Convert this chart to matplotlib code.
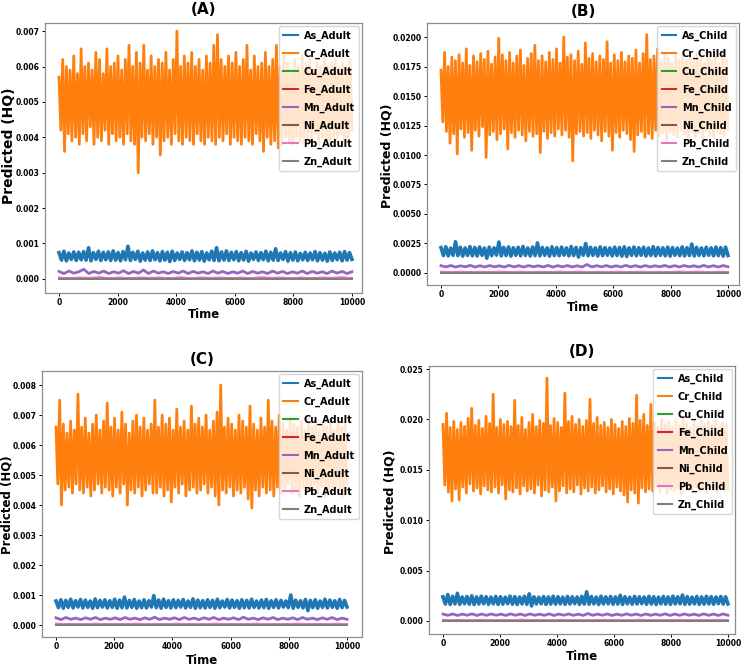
import numpy as np
from matplotlib import pyplot as plt

plt.rcParams["font.family"] = ["DejaVu Sans"]
plt.rcParams["font.weight"] = "bold"
plt.rcParams["axes.labelweight"] = "bold"

metals = ["As", "Cr", "Cu", "Fe", "Mn", "Ni", "Pb", "Zn"]
# units of each metal's value list
units = [1e-5, 1e-4, 1e-6, 1e-6, 1e-5, 1e-6, 1e-5, 1e-6]
colors = ["#1f77b4", "#ff7f0e", "#2ca02c", "#d62728",
          "#9467bd", "#8c564b", "#e377c2", "#7f7f7f"]
x_ticks = [0, 2000, 4000, 6000, 8000, 10000]

# ---- panel A (adult) ----
as_a = [74, 53, 78, 51, 73, 55, 76, 52, 75, 54, 77, 53, 88, 51, 74, 55, 78, 52, 75, 54,
        76, 52, 79, 53, 74, 51, 77, 54, 92, 52, 75, 55, 78, 50, 73, 53, 76, 52, 79, 54,
        74, 51, 77, 53, 75, 49, 78, 52, 73, 55, 76, 52, 74, 54, 79, 51, 75, 53, 77, 50,
        73, 54, 78, 52, 88, 51, 76, 53, 79, 52, 75, 54, 77, 51, 74, 53, 78, 50, 73, 55,
        76, 52, 74, 54, 78, 51, 75, 53, 85, 52, 73, 55, 77, 50, 74, 53, 76, 51, 72, 54,
        75, 52, 73, 54, 77, 51, 74, 53, 72, 50, 76, 52, 73, 54, 75, 51, 77, 53, 74, 55]
cr_a = [57, 42, 62, 36, 60, 41, 59, 39, 63, 40, 58, 38, 65, 41, 60, 39, 61, 43, 59, 38,
        64, 40, 62, 39, 58, 42, 65, 38, 60, 41, 61, 39, 63, 40, 59, 38, 62, 41, 66, 39,
        60, 38, 64, 30, 61, 40, 66, 39, 59, 41, 63, 38, 60, 40, 62, 35, 61, 39, 64, 40,
        59, 38, 62, 41, 70, 39, 60, 38, 63, 40, 61, 39, 64, 38, 60, 41, 62, 39, 59, 38,
        63, 40, 61, 39, 66, 38, 69, 40, 62, 39, 60, 41, 63, 38, 61, 40, 64, 39, 60, 38,
        62, 40, 66, 39, 59, 38, 63, 41, 60, 39, 61, 36, 64, 40, 60, 38, 62, 39, 66, 37,
        60, 38, 63, 40, 61, 39, 59, 38, 62, 40, 60, 39, 63, 38, 61, 40, 62, 39, 59, 41,
        61, 38, 60, 40, 63, 39, 60, 38, 61, 40, 62, 39, 60, 41, 61, 38, 59, 40, 62, 42]
cu_a = [9, 12, 8, 11, 10, 13, 9, 11, 8, 12, 10, 11, 9, 13, 8, 12, 10, 11, 9, 12]
fe_a = [4, 6, 5, 7, 4, 6, 5, 6, 4, 7, 5, 6, 4, 6, 5, 7, 4, 6, 5, 6]
mn_a = [21, 15, 22, 16, 20, 27, 15, 21, 16, 22, 15, 20, 16, 23, 15, 21, 16, 25, 15, 22,
        16, 20, 15, 21, 16, 22, 15, 21, 16, 20, 15, 22, 16, 21, 15, 20, 16, 22, 15, 21,
        16, 20, 15, 22, 16, 21, 15, 20, 16, 22, 15, 21, 16, 20, 15, 22, 16, 21, 15, 20]
ni_a = [15, 19, 14, 18, 16, 20, 15, 18, 14, 19, 16, 18, 15, 20, 14, 19, 16, 18, 15, 19]
pb_a = [4, 2, 4, 3, 5, 2, 4, 2, 4, 3, 4, 2, 5, 2, 4, 3, 4, 2, 4, 2, 5, 3, 4, 2, 4, 2, 4, 3, 5, 2]
zn_a = [2, 4, 3, 4, 2, 3, 3, 4, 2, 4, 3, 3, 2, 4, 3, 4, 2, 3, 3, 4]

# ---- panel B (child) ----
as_b = [215, 148, 222, 145, 210, 150, 265, 147, 218, 143, 212, 149, 224, 146, 216, 144, 220, 150, 211, 125,
        219, 147, 213, 151, 262, 145, 217, 148, 221, 143, 214, 150, 218, 146, 225, 149, 212, 144, 220, 147,
        255, 145, 216, 150, 213, 143, 222, 148, 215, 146, 219, 151, 212, 145, 224, 148, 217, 135, 214, 150,
        250, 146, 218, 149, 213, 144, 221, 147, 215, 150, 212, 145, 219, 148, 216, 143, 222, 140, 213, 149,
        220, 146, 214, 150, 218, 144, 212, 148, 223, 145, 216, 149, 213, 146, 219, 143, 215, 150, 211, 147,
        221, 145, 214, 148, 245, 144, 217, 149, 212, 146, 218, 150, 213, 145, 220, 147, 215, 143, 219, 148]
cr_b = [172, 128, 187, 120, 175, 110, 183, 118, 180, 101, 185, 122, 178, 115, 190, 119, 176, 104, 184, 121,
        179, 116, 186, 124, 181, 98, 188, 117, 177, 120, 183, 113, 199, 118, 185, 122, 180, 105, 187, 119,
        178, 115, 184, 121, 189, 117, 176, 112, 182, 120, 186, 116, 193, 118, 180, 102, 184, 120, 179, 114,
        187, 119, 181, 116, 190, 122, 178, 117, 200, 121, 183, 115, 185, 95, 180, 118, 188, 120, 177, 116,
        195, 119, 182, 114, 186, 121, 179, 117, 184, 112, 181, 120, 196, 116, 178, 104, 185, 119, 180, 115,
        187, 121, 179, 118, 184, 113, 182, 103, 189, 117, 178, 120, 186, 115, 202, 118, 181, 114, 184, 121,
        190, 116, 179, 119, 185, 113, 182, 120, 178, 117, 184, 115, 181, 121, 187, 118, 180, 114, 183, 120,
        179, 116, 186, 119, 182, 113, 178, 121, 185, 117, 180, 115, 183, 120, 177, 118, 184, 116, 181, 122]
cu_b = [30, 36, 28, 34, 31, 38, 29, 35, 30, 37, 32, 34, 29, 38, 28, 36, 31, 35, 30, 37]
fe_b = [13, 18, 15, 20, 14, 17, 16, 19, 13, 20, 15, 18, 14, 17, 16, 19, 13, 18, 15, 17]
mn_b = [62, 51, 63, 50, 61, 52, 64, 50, 62, 51, 63, 52, 61, 50, 64, 51, 62, 50, 63, 52,
        61, 51, 64, 50, 62, 52, 63, 51, 61, 50, 72, 51, 62, 52, 63, 50, 61, 51, 64, 52,
        62, 50, 63, 51, 61, 52, 64, 50, 62, 51, 63, 52, 61, 50, 64, 51, 62, 50, 63, 52]
ni_b = [48, 56, 46, 54, 50, 58, 47, 55, 49, 57, 51, 54, 48, 58, 46, 56, 50, 55, 47, 57]
pb_b = [12, 9, 12, 8, 11, 9, 13, 8, 12, 9, 11, 8, 12, 9, 13, 8, 11, 9, 12, 8, 12, 9, 11, 8, 13, 9, 12, 8, 11, 9]
zn_b = [7, 11, 9, 12, 8, 10, 9, 12, 7, 11, 9, 10, 8, 12, 9, 11, 7, 10, 9, 12]

# ---- panel C (adult) ----
as_c = [80, 58, 84, 56, 82, 59, 86, 57, 81, 60, 85, 57, 83, 59, 80, 56, 87, 58, 82, 60,
        84, 57, 81, 59, 86, 56, 83, 58, 93, 57, 82, 59, 85, 56, 80, 58, 84, 57, 81, 60,
        98, 58, 83, 56, 86, 59, 81, 57, 84, 58, 82, 60, 85, 57, 80, 59, 87, 56, 83, 58,
        81, 57, 84, 59, 82, 56, 86, 58, 80, 60, 85, 57, 83, 59, 81, 56, 84, 58, 82, 57,
        86, 59, 80, 57, 83, 58, 85, 56, 81, 59, 84, 57, 82, 60, 80, 58, 100, 56, 83, 59,
        81, 57, 85, 48, 82, 58, 84, 56, 80, 59, 86, 57, 83, 59, 81, 56, 85, 58, 82, 60]
cr_c = [66, 47, 75, 40, 67, 45, 64, 46, 68, 44, 65, 47, 77, 45, 66, 44, 69, 46, 64, 43,
        67, 45, 70, 47, 65, 44, 68, 46, 74, 45, 66, 43, 69, 46, 65, 44, 71, 47, 67, 40,
        64, 45, 68, 44, 70, 46, 66, 43, 69, 45, 65, 47, 67, 44, 75, 44, 66, 46, 70, 43,
        67, 45, 69, 41, 65, 46, 72, 44, 66, 47, 68, 43, 65, 45, 73, 46, 67, 44, 69, 45,
        66, 47, 70, 44, 65, 46, 68, 43, 71, 40, 80, 45, 66, 44, 69, 46, 67, 43, 65, 45,
        70, 44, 68, 46, 66, 42, 73, 39, 67, 45, 65, 43, 69, 46, 66, 44, 75, 45, 68, 43,
        66, 46, 70, 44, 67, 45, 65, 47, 69, 44, 67, 45, 66, 43, 68, 46, 65, 44, 69, 45,
        66, 47, 68, 44, 65, 46, 67, 43, 66, 45, 68, 44, 65, 46, 67, 45, 66, 43, 68, 47]
cu_c = [10, 13, 9, 12, 11, 14, 10, 12, 9, 13, 11, 12, 10, 14, 9, 13, 11, 12, 10, 13]
fe_c = [5, 7, 6, 8, 5, 7, 6, 7, 5, 8, 6, 7, 5, 7, 6, 8, 5, 7, 6, 7]
mn_c = [24, 18, 25, 19, 23, 18, 24, 19, 25, 18, 23, 19, 24, 18, 25, 19, 23, 18, 24, 19,
        26, 18, 23, 19, 24, 18, 25, 19, 23, 18, 24, 19, 25, 18, 23, 19, 24, 18, 26, 19,
        23, 18, 24, 19, 25, 18, 23, 19, 24, 18, 25, 19, 23, 18, 24, 19, 25, 18, 23, 19]
ni_c = [17, 21, 16, 20, 18, 22, 17, 20, 16, 21, 18, 20, 17, 22, 16, 21, 18, 20, 17, 21]
pb_c = [5, 3, 4, 3, 5, 2, 4, 3, 5, 3, 4, 2, 5, 3, 4, 3, 5, 2, 4, 3, 5, 3, 4, 2, 5, 3, 4, 3, 5, 2]
zn_c = [3, 4, 3, 5, 2, 4, 3, 4, 3, 5, 3, 4, 2, 4, 3, 5, 3, 4, 3, 4]

# ---- panel D (child) ----
as_d = [240, 168, 262, 165, 245, 170, 275, 166, 238, 172, 243, 167, 250, 164, 239, 169, 246, 171, 241, 166,
        237, 170, 244, 165, 240, 168, 236, 172, 247, 167, 242, 164, 238, 170, 245, 166, 270, 150, 240, 169,
        236, 171, 243, 165, 239, 168, 246, 167, 241, 170, 237, 166, 244, 169, 240, 172, 238, 165, 245, 168,
        290, 167, 242, 170, 237, 164, 246, 169, 240, 171, 243, 166, 239, 168, 255, 165, 241, 170, 236, 167,
        244, 169, 240, 172, 238, 166, 245, 168, 241, 164, 237, 170, 243, 167, 239, 165, 246, 169, 240, 171,
        258, 166, 242, 168, 237, 170, 244, 165, 239, 167, 245, 169, 241, 166, 238, 172, 243, 168, 240, 170]
cr_d = [195, 135, 206, 128, 192, 119, 198, 131, 190, 120, 197, 133, 193, 127, 201, 136, 211, 129, 194, 132,
        199, 126, 191, 134, 203, 130, 196, 128, 225, 133, 192, 127, 200, 135, 195, 121, 198, 130, 193, 128,
        219, 132, 194, 126, 202, 134, 190, 129, 197, 131, 205, 127, 193, 135, 199, 124, 196, 130, 241, 128,
        194, 133, 201, 119, 197, 129, 192, 134, 226, 127, 198, 131, 203, 128, 195, 135, 200, 126, 193, 132,
        199, 129, 220, 133, 196, 127, 202, 130, 194, 134, 197, 128, 192, 131, 200, 126, 195, 133, 191, 129,
        198, 125, 193, 118, 201, 130, 196, 127, 224, 117, 199, 132, 205, 128, 194, 131, 215, 129, 197, 134,
        192, 128, 200, 133, 195, 127, 198, 131, 193, 129, 199, 132, 194, 126, 201, 134, 196, 130, 192, 128,
        197, 133, 193, 129, 200, 131, 195, 127, 198, 132, 194, 130, 199, 128, 192, 133, 197, 129, 195, 131]
cu_d = [33, 39, 31, 37, 34, 41, 32, 38, 33, 40, 35, 37, 32, 41, 31, 39, 34, 38, 33, 40]
fe_d = [15, 20, 17, 22, 16, 19, 18, 21, 15, 22, 17, 20, 16, 19, 18, 21, 15, 20, 17, 19]
mn_d = [69, 56, 70, 55, 68, 57, 71, 55, 69, 56, 70, 57, 68, 55, 71, 56, 69, 55, 70, 57,
        68, 56, 71, 55, 69, 57, 70, 56, 68, 55, 74, 56, 69, 57, 70, 55, 68, 56, 71, 57,
        69, 55, 70, 56, 68, 57, 71, 55, 69, 56, 70, 57, 68, 55, 71, 56, 69, 55, 70, 57]
ni_d = [53, 61, 51, 59, 55, 63, 52, 60, 54, 62, 56, 59, 53, 63, 51, 61, 55, 60, 52, 62]
pb_d = [13, 10, 12, 9, 13, 10, 12, 9, 14, 10, 12, 9, 13, 10, 12, 9, 13, 10, 12, 9, 14, 10, 12, 9, 13, 10, 12, 9, 13, 10]
zn_d = [8, 12, 10, 13, 9, 11, 10, 13, 8, 12, 10, 11, 9, 13, 10, 12, 8, 11, 10, 13]

yticks_a = [0.000, 0.001, 0.002, 0.003, 0.004, 0.005, 0.006, 0.007]
yticks_b = [0.0000, 0.0025, 0.0050, 0.0075, 0.0100, 0.0125, 0.0150, 0.0175, 0.0200]
yticks_c = [0.000, 0.001, 0.002, 0.003, 0.004, 0.005, 0.006, 0.007, 0.008]
yticks_d = [0.000, 0.005, 0.010, 0.015, 0.020, 0.025]

panels = [
    # title, group, series, yticks, fmt, rect(px: l, t, r, b), ylim, xlim,
    # ylabel size, ylabel centre (px x, px y), title gap, xlabel top gap
    ("(A)", "Adult", [as_a, cr_a, cu_a, fe_a, mn_a, ni_a, pb_a, zn_a], yticks_a, "%.3f",
     (45, 23, 362, 293), (-0.0004, 0.00723), (-478, 10341), 10, (9.5, 146), 13, 15),
    ("(B)", "Child", [as_b, cr_b, cu_b, fe_b, mn_b, ni_b, pb_b, zn_b], yticks_b, "%.4f",
     (427, 23, 739, 285), (-0.00102, 0.02119), (-488, 10383), 9, (387, 156), 11, 16),
    ("(C)", "Adult", [as_c, cr_c, cu_c, fe_c, mn_c, ni_c, pb_c, zn_c], yticks_c, "%.3f",
     (42, 371, 362, 637), (-0.0004, 0.00847), (-481, 10515), 8.5, (7.5, 505), 12, 17),
    ("(D)", "Child", [as_d, cr_d, cu_d, fe_d, mn_d, ni_d, pb_d, zn_d], yticks_d, "%.3f",
     (429, 366, 735, 634), (-0.00129, 0.0253), (-491, 10246), 9, (390, 502), 14, 16),
]

W, H = 744, 668
fig = plt.figure(figsize=(W / 100, H / 100), dpi=100)

line_w = {"Cr": 2.0, "As": 2.6, "Mn": 2.0}

for (title, group, series, yticks, fmt, rect, ylim, xlim,
     ylsize, ylxy, tgap, xgap) in panels:
    l, t, r, b = rect
    ax = fig.add_axes([l / W, 1 - b / H, (r - l) / W, (b - t) / H])
    for metal, vals, unit, c in zip(metals, series, units, colors):
        y = np.array(vals) * unit
        x = np.linspace(0, 9999, len(y))
        ax.plot(x, y, color=c, lw=line_w.get(metal, 1.3), label=f"{metal}_{group}")
    ax.set_xlim(*xlim)
    ax.set_ylim(*ylim)
    ax.set_xticks(x_ticks)
    ax.set_yticks(yticks)
    ax.yaxis.set_major_formatter(plt.FormatStrFormatter(fmt))
    ax.tick_params(labelsize=5.5, length=2.5, width=0.7, pad=1.2)
    for s in ax.spines.values():
        s.set_color("0.55")
        s.set_linewidth(0.9)
    # centre the rotated label on the given pixel position
    ax.set_ylabel("Predicted (HQ)", fontsize=ylsize, va="center")
    ax.yaxis.set_label_coords((ylxy[0] - l) / (r - l), (b - ylxy[1]) / (b - t))
    ax.set_xlabel("Time", fontsize=8.5)
    ax.xaxis.set_label_coords(0.5, -xgap / (b - t))
    ax.text(0.5, 1 + tgap / (b - t), title, transform=ax.transAxes,
            ha="center", va="center", fontsize=11, fontweight="bold")
    leg = ax.legend(loc="upper right", fontsize=7, labelspacing=0.8,
                    handlelength=1.5, handletextpad=0.6, borderpad=0.45,
                    borderaxespad=0.3)
    for ln in leg.get_lines():
        ln.set_linewidth(1.5)

fig.savefig("out.png", dpi=100)
